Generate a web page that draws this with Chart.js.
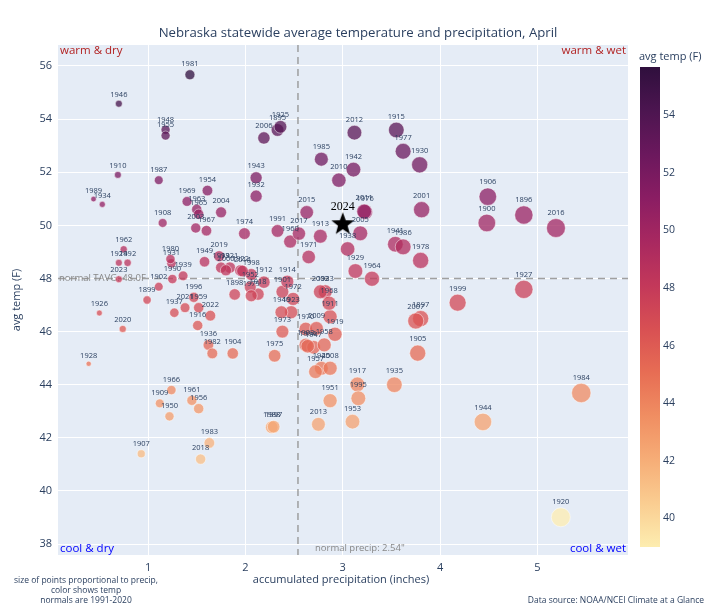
<!DOCTYPE html>
<html>
<head>
<meta charset="utf-8">
<script src="https://cdn.jsdelivr.net/npm/chart.js@4.4.1/dist/chart.umd.min.js"></script>
<style>
  body { margin: 0; background: #fff; }
  #wrap { width: 720px; height: 612px; }
</style>
</head>
<body>
<div id="wrap"><canvas id="chart" width="720" height="612"></canvas></div>
<script>
// April data, one entry per year
const years = [1895, 1896, 1897, 1898, 1899, 1900, 1901, 1902, 1903, 1904, 1905, 1906, 1907, 1908, 1909,
  1910, 1911, 1912, 1913, 1914, 1915, 1916, 1917, 1918, 1919, 1920, 1921, 1922, 1923, 1924, 1925, 1926,
  1927, 1928, 1929, 1930, 1931, 1932, 1933, 1934, 1935, 1936, 1937, 1938, 1939, 1940, 1941, 1942, 1943,
  1944, 1945, 1946, 1947, 1948, 1949, 1950, 1951, 1952, 1953, 1954, 1955, 1956, 1957, 1958, 1959, 1960,
  1961, 1962, 1963, 1964, 1965, 1966, 1967, 1968, 1969, 1970, 1971, 1972, 1973, 1974, 1975, 1976, 1977,
  1978, 1979, 1980, 1981, 1982, 1983, 1984, 1985, 1986, 1987, 1988, 1989, 1990, 1991, 1992, 1993, 1994,
  1995, 1996, 1997, 1998, 1999, 2000, 2001, 2002, 2003, 2004, 2005, 2006, 2007, 2008, 2009, 2010, 2011,
  2012, 2013, 2014, 2015, 2016, 2017, 2018, 2019, 2020, 2021, 2022, 2023];
const precip = [2.33, 4.86, 3.80, 1.89, 0.99, 4.48, 2.38, 1.11, 2.62, 1.87, 3.77, 4.49, 0.93, 1.15, 1.12,
  0.69, 2.87, 2.19, 2.77, 2.43, 3.55, 1.51, 3.15, 2.13, 2.92, 5.24, 1.84, 1.95, 2.47, 0.70, 2.36, 0.50,
  4.86, 0.39, 3.13, 3.79, 1.24, 2.11, 2.82, 0.53, 3.53, 1.62, 1.27, 3.05, 1.36, 2.37, 3.54, 3.11, 2.11,
  4.44, 2.78, 0.70, 2.70, 1.18, 1.58, 1.22, 2.87, 2.05, 3.10, 1.61, 1.18, 1.52, 2.72, 2.81, 1.52, 2.46,
  1.45, 0.75, 1.50, 3.30, 1.52, 1.24, 1.60, 2.86, 1.40, 2.62, 2.65, 2.49, 2.38, 1.99, 2.30, 3.23, 3.62,
  3.80, 2.06, 1.23, 1.43, 1.66, 1.63, 5.45, 2.78, 3.62, 1.11, 2.27, 0.44, 1.25, 2.33, 0.79, 1.75, 2.64,
  3.16, 1.47, 2.29, 2.06, 4.18, 1.80, 3.81, 2.77, 1.49, 1.75, 3.18, 2.19, 3.75, 2.87, 2.73, 2.96, 3.22,
  3.12, 2.75, 1.97, 2.63, 5.19, 2.55, 1.54, 1.73, 0.74, 1.38, 1.64, 0.70];
const temps = [53.59, 50.39, 46.49, 47.40, 47.19, 50.09, 47.50, 47.69, 45.50, 45.18, 45.19, 51.08, 41.40, 50.09, 43.30,
  51.90, 46.56, 47.86, 49.59, 47.88, 53.59, 46.23, 44.01, 47.41, 45.90, 39.01, 48.41, 48.30, 46.73, 48.59, 53.71, 46.70,
  47.59, 44.79, 48.28, 52.28, 48.57, 51.10, 47.50, 50.79, 44.00, 45.50, 46.71, 49.11, 48.10, 46.73, 49.29, 52.10, 51.79,
  42.60, 44.62, 54.58, 45.41, 53.60, 48.63, 42.81, 43.40, 47.68, 42.61, 51.31, 53.38, 43.10, 44.49, 45.50, 46.90, 49.39,
  43.41, 49.10, 50.60, 47.99, 50.42, 43.80, 49.80, 47.07, 50.90, 46.10, 48.81, 47.23, 46.00, 49.69, 45.09, 50.50, 52.79,
  48.68, 47.35, 48.73, 55.67, 45.18, 41.81, 43.69, 52.49, 49.19, 51.70, 42.40, 50.99, 47.98, 49.79, 48.59, 48.41, 45.45,
  43.49, 47.29, 42.42, 48.15, 47.09, 48.31, 50.59, 47.50, 49.90, 50.49, 49.70, 53.29, 46.40, 44.62, 46.12, 51.70, 50.52,
  53.49, 42.51, 48.28, 50.49, 49.90, 49.69, 41.20, 48.84, 46.10, 46.90, 46.60, 47.97];

// Current year, drawn as a star
const currentYear = [2024];
const currentPrecip = [3.00];
const currentTemp = [50.08];

// Normals 1991-2020
const normalPrecip = 2.54;
const normalTemp = 48.0;

// Axis ticks
const xTicks = [1, 2, 3, 4, 5];
const yTicks = [38, 40, 42, 44, 46, 48, 50, 52, 54, 56];
const colorTicks = [40, 42, 44, 46, 48, 50, 52, 54];

// cmocean "matter" colour scale
const matter = [[253, 237, 176], [250, 205, 145], [246, 173, 119], [240, 142, 98], [231, 109, 84], [216, 80, 83],
  [195, 56, 90], [168, 40, 96], [138, 29, 99], [107, 24, 93], [76, 21, 80], [47, 15, 61]];
const cmin = Math.min(...temps);
const cmax = Math.max(...temps);

// Function returning the colour of a temperature
function tempColor(t, alpha) {
    let f = (t - cmin) / (cmax - cmin);
    f = Math.max(0, Math.min(1, f)) * (matter.length - 1);
    const i = Math.min(Math.floor(f), matter.length - 2);
    const r = f - i;
    const c = matter[i].map((v, k) => Math.round(v + (matter[i + 1][k] - v) * r));
    return 'rgba(' + c[0] + ',' + c[1] + ',' + c[2] + ',' + alpha + ')';
}

// Bubble radius from precipitation
function bubbleRadius(p) {
    return 4.15 * Math.sqrt(p);
}

// Filled black star for the current year
function makeStar(size) {
    const c = document.createElement('canvas');
    c.width = size; c.height = size;
    const g = c.getContext('2d');
    const cx = size / 2, cy = size / 2 + 1, R = size / 2, r = R * 0.42;
    g.beginPath();
    for (let k = 0; k < 10; k++) {
        const a = -Math.PI / 2 + k * Math.PI / 5;
        const rr = k % 2 === 0 ? R : r;
        g.lineTo(cx + rr * Math.cos(a), cy + rr * Math.sin(a));
    }
    g.closePath();
    g.fillStyle = '#000';
    g.fill();
    return c;
}

const font = '"Open Sans", verdana, arial, sans-serif';
const ink = '#2a3f5f';

// Plugin drawing the background, normals, labels, colour bar and notes
const decorations = {
    id: 'decorations',
    beforeDraw(chart) {
        const ctx = chart.ctx, a = chart.chartArea;
        ctx.save();
        ctx.fillStyle = '#e5ecf6';
        ctx.fillRect(a.left, a.top, a.right - a.left, a.bottom - a.top);
        ctx.restore();
    },
    beforeDatasetsDraw(chart) {
        const ctx = chart.ctx, a = chart.chartArea;
        const xs = chart.scales.x, ys = chart.scales.y;
        const px = xs.getPixelForValue(normalPrecip);
        const py = ys.getPixelForValue(normalTemp);
        ctx.save();
        ctx.strokeStyle = 'rgba(150,150,150,0.9)';
        ctx.lineWidth = 1.5;
        ctx.setLineDash([7, 5]);
        ctx.beginPath();
        ctx.moveTo(px, a.top); ctx.lineTo(px, a.bottom);
        ctx.moveTo(a.left, py); ctx.lineTo(a.right, py);
        ctx.stroke();
        ctx.setLineDash([]);
        ctx.fillStyle = '#888';
        ctx.font = '9.5px ' + font;
        ctx.textBaseline = 'middle';
        ctx.textAlign = 'left';
        ctx.fillText('normal TAVG: ' + normalTemp.toFixed(1) + 'F', a.left + 1, py);
        ctx.fillText('normal precip: ' + normalPrecip + '"', px + 17, a.bottom - 7);
        ctx.restore();
    },
    afterDatasetsDraw(chart) {
        const ctx = chart.ctx, a = chart.chartArea;
        const xs = chart.scales.x, ys = chart.scales.y;
        ctx.save();
        // year labels
        ctx.font = '7.5px ' + font;
        ctx.fillStyle = ink;
        ctx.textAlign = 'center';
        ctx.textBaseline = 'bottom';
        years.forEach((yr, i) => {
            const x = xs.getPixelForValue(precip[i]);
            const y = ys.getPixelForValue(temps[i]);
            ctx.fillText(String(yr), x, y - bubbleRadius(precip[i]) - 2);
        });
        ctx.font = '12px "Liberation Serif", serif';
        ctx.fillStyle = '#000';
        currentYear.forEach((yr, i) => {
            const x = xs.getPixelForValue(currentPrecip[i]);
            const y = ys.getPixelForValue(currentTemp[i]);
            ctx.fillText(String(yr), x, y - 10);
        });

        // quadrant labels
        ctx.font = '11.5px ' + font;
        ctx.textBaseline = 'middle';
        ctx.fillStyle = '#b22222';
        ctx.textAlign = 'left';
        ctx.fillText('warm & dry', a.left + 2, a.top + 6);
        ctx.textAlign = 'right';
        ctx.fillText('warm & wet', a.right - 2, a.top + 6);
        ctx.fillStyle = '#0000ff';
        ctx.textAlign = 'left';
        ctx.fillText('cool & dry', a.left + 2, a.bottom - 6);
        ctx.textAlign = 'right';
        ctx.fillText('cool & wet', a.right - 2, a.bottom - 6);

        // title
        ctx.fillStyle = ink;
        ctx.textAlign = 'center';
        ctx.font = '13.2px ' + font;
        ctx.fillText('Nebraska statewide average temperature and precipitation, April', 358, 33);

        // axis titles
        ctx.font = '11px ' + font;
        ctx.fillText('accumulated precipitation (inches)', 341, 580);
        ctx.save();
        ctx.translate(17, 300);
        ctx.rotate(-Math.PI / 2);
        ctx.fillText('avg temp (F)', 0, 0);
        ctx.restore();

        // notes
        ctx.font = '8.5px ' + font;
        ctx.fillText('size of points proportional to precip,', 86, 581);
        ctx.fillText('color shows temp', 86, 591);
        ctx.fillText('normals are 1991-2020', 86, 601);
        ctx.textAlign = 'right';
        ctx.fillText('Data source: NOAA/NCEI Climate at a Glance', 704, 601);

        // colour bar
        const bx = 640, bw = 20, top = 67, bottom = 547;
        const grad = ctx.createLinearGradient(0, bottom, 0, top);
        matter.forEach((c, k) => grad.addColorStop(k / (matter.length - 1), 'rgb(' + c.join(',') + ')'));
        ctx.fillStyle = grad;
        ctx.fillRect(bx, top, bw, bottom - top);
        ctx.fillStyle = ink;
        ctx.font = '10.5px ' + font;
        ctx.textAlign = 'left';
        colorTicks.forEach(t => {
            const y = bottom - (t - cmin) / (cmax - cmin) * (bottom - top);
            ctx.fillText(String(t), bx + bw + 3, y);
        });
        ctx.font = '11px ' + font;
        ctx.fillText('avg temp (F)', 639, 57);
        ctx.restore();
    }
};

const ctx = document.getElementById('chart').getContext('2d');
const chart = new Chart(ctx, {
    type: 'scatter',
    data: {
        datasets: [{
            label: 'years',
            data: years.map((yr, i) => ({ x: precip[i], y: temps[i] })),
            backgroundColor: temps.map(t => tempColor(t, 0.75)),
            borderColor: 'rgba(255,255,255,0.6)',
            borderWidth: 0.8,
            pointRadius: precip.map(bubbleRadius),
            pointHoverRadius: precip.map(bubbleRadius)
        }, {
            label: 'current',
            data: currentYear.map((yr, i) => ({ x: currentPrecip[i], y: currentTemp[i] })),
            pointStyle: makeStar(24),
            pointRadius: 12
        }]
    },
    options: {
        responsive: false,
        animation: false,
        layout: { padding: { left: 0, top: 45, right: 92, bottom: 0 } },
        plugins: {
            legend: { display: false },
            tooltip: { enabled: false }
        },
        scales: {
            x: {
                type: 'linear',
                min: 0.075,
                max: 5.93,
                afterBuildTicks: s => { s.ticks = xTicks.map(v => ({ value: v })); },
                afterFit: s => { s.height = 57; },
                grid: { color: '#ffffff', lineWidth: 1, drawTicks: false },
                border: { display: false },
                ticks: { color: ink, font: { family: font, size: 11 }, padding: 6 }
            },
            y: {
                type: 'linear',
                min: 37.59,
                max: 56.79,
                afterBuildTicks: s => { s.ticks = yTicks.map(v => ({ value: v })); },
                afterFit: s => { s.width = 58; },
                grid: { color: '#ffffff', lineWidth: 1, drawTicks: false },
                border: { display: false },
                ticks: { color: ink, font: { family: font, size: 11 }, padding: 6 }
            }
        }
    },
    plugins: [decorations]
});
</script>
</body>
</html>
